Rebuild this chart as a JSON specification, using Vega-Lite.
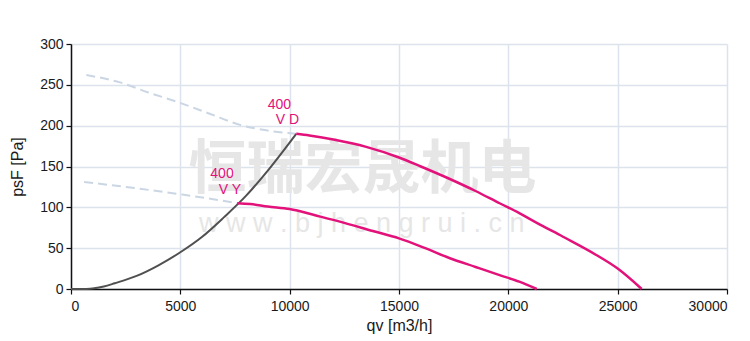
{
  "$schema": "https://vega.github.io/schema/vega-lite/v6.json",
  "autosize": "none",
  "width": 656,
  "height": 245,
  "padding": {"left": 71, "top": 44, "right": 23, "bottom": 52},
  "background": "white",
  "config": {
    "view": {"stroke": null},
    "axis": {
      "grid": true,
      "gridColor": "#dce3ec",
      "gridWidth": 1.5,
      "domainColor": "#111111",
      "domainWidth": 1.5,
      "tickColor": "#111111",
      "tickWidth": 1.2,
      "tickSize": 5,
      "labelFont": "Liberation Sans",
      "labelFontSize": 14,
      "labelColor": "#1a1a1a",
      "labelPadding": 3,
      "titleFont": "Liberation Sans",
      "titleFontSize": 16,
      "titleFontWeight": "normal",
      "titleColor": "#1a1a1a"
    }
  },
  "layer": [
    {
      "data": {"values": [
        {"x": 13330, "y": 145, "t": "恒瑞宏晟机电"}
      ]},
      "mark": {"type": "text", "font": "Noto Sans CJK SC", "fontWeight": "bold", "fontSize": 58, "color": "#e6e6e6", "align": "center", "baseline": "middle"},
      "encoding": {
        "x": {"field": "x", "type": "quantitative", "scale": {"domain": [0, 30000]}, "axis": {"values": [0, 5000, 10000, 15000, 20000, 25000, 30000], "format": "d", "title": "qv [m3/h]", "labelPadding": 5, "titlePadding": 4}},
        "y": {"field": "y", "type": "quantitative", "scale": {"domain": [0, 300]}, "axis": {"values": [0, 50, 100, 150, 200, 250, 300], "format": "d", "title": "psF [Pa]", "titlePadding": 14}},
        "text": {"field": "t"}
      }
    },
    {
      "data": {"values": [
        {"x": 13300, "y": 79, "t": "w w w . b j h e n g r u i . c n"}
      ]},
      "mark": {"type": "text", "font": "Liberation Sans", "fontSize": 27, "color": "#e6e6e6", "align": "center", "baseline": "middle"},
      "encoding": {
        "x": {"field": "x", "type": "quantitative"},
        "y": {"field": "y", "type": "quantitative"},
        "text": {"field": "t"}
      }
    },
    {
      "data": {"values": [
        {"x": 700, "y": 262, "s": "a"}, {"x": 2240, "y": 253, "s": "a"}, {"x": 3500, "y": 241, "s": "a"}, {"x": 4985, "y": 228, "s": "a"}, {"x": 6400, "y": 214, "s": "a"}, {"x": 7730, "y": 201, "s": "a"}, {"x": 9000, "y": 194, "s": "a"}, {"x": 10300, "y": 190, "s": "a"},
        {"x": 600, "y": 131, "s": "b"}, {"x": 2500, "y": 125, "s": "b"}, {"x": 5000, "y": 116, "s": "b"}, {"x": 6500, "y": 110, "s": "b"}, {"x": 7600, "y": 105, "s": "b"}
      ]},
      "mark": {"type": "line", "color": "#cbd6e4", "strokeWidth": 2, "strokeDash": [9, 5], "interpolate": "monotone"},
      "encoding": {
        "x": {"field": "x", "type": "quantitative"},
        "y": {"field": "y", "type": "quantitative"},
        "detail": {"field": "s"}
      }
    },
    {
      "data": {"values": [
        {"x": 0, "y": 0}, {"x": 700, "y": 0}, {"x": 1500, "y": 3}, {"x": 2000, "y": 7}, {"x": 3000, "y": 16}, {"x": 4000, "y": 29}, {"x": 5000, "y": 45}, {"x": 6000, "y": 64}, {"x": 7000, "y": 88}, {"x": 8000, "y": 114}, {"x": 9000, "y": 145}, {"x": 10300, "y": 190}
      ]},
      "mark": {"type": "line", "color": "#505050", "strokeWidth": 2, "interpolate": "monotone"},
      "encoding": {
        "x": {"field": "x", "type": "quantitative"},
        "y": {"field": "y", "type": "quantitative"}
      }
    },
    {
      "data": {"values": [
        {"x": 10300, "y": 190, "s": "VD"}, {"x": 10900, "y": 188, "s": "VD"}, {"x": 12000, "y": 183, "s": "VD"}, {"x": 13500, "y": 174, "s": "VD"}, {"x": 15000, "y": 161, "s": "VD"}, {"x": 16000, "y": 150, "s": "VD"}, {"x": 17300, "y": 135, "s": "VD"}, {"x": 18500, "y": 120, "s": "VD"}, {"x": 19600, "y": 105, "s": "VD"}, {"x": 20500, "y": 93, "s": "VD"}, {"x": 21300, "y": 81, "s": "VD"}, {"x": 22500, "y": 64, "s": "VD"}, {"x": 24000, "y": 42, "s": "VD"}, {"x": 25000, "y": 25, "s": "VD"}, {"x": 26100, "y": 0, "s": "VD"},
        {"x": 7600, "y": 105, "s": "VY"}, {"x": 8200, "y": 104, "s": "VY"}, {"x": 9000, "y": 101, "s": "VY"}, {"x": 10000, "y": 98, "s": "VY"}, {"x": 11200, "y": 90, "s": "VY"}, {"x": 12500, "y": 81, "s": "VY"}, {"x": 13800, "y": 71, "s": "VY"}, {"x": 15000, "y": 62, "s": "VY"}, {"x": 16200, "y": 50, "s": "VY"}, {"x": 17300, "y": 38, "s": "VY"}, {"x": 18500, "y": 27, "s": "VY"}, {"x": 19600, "y": 17, "s": "VY"}, {"x": 20500, "y": 9, "s": "VY"}, {"x": 21300, "y": 0, "s": "VY"}
      ]},
      "mark": {"type": "line", "color": "#e3117a", "strokeWidth": 2.5, "interpolate": "monotone"},
      "encoding": {
        "x": {"field": "x", "type": "quantitative"},
        "y": {"field": "y", "type": "quantitative"},
        "detail": {"field": "s"}
      }
    },
    {
      "data": {"values": [
        {"x": 9526, "y": 225.5, "t": "400"},
        {"x": 9893, "y": 206.5, "t": "V D"},
        {"x": 6905, "y": 141, "t": "400"},
        {"x": 7271, "y": 121.5, "t": "V Y"}
      ]},
      "mark": {"type": "text", "font": "Liberation Sans", "fontSize": 14, "color": "#e3117a", "align": "center", "baseline": "middle"},
      "encoding": {
        "x": {"field": "x", "type": "quantitative"},
        "y": {"field": "y", "type": "quantitative"},
        "text": {"field": "t"}
      }
    }
  ]
}
